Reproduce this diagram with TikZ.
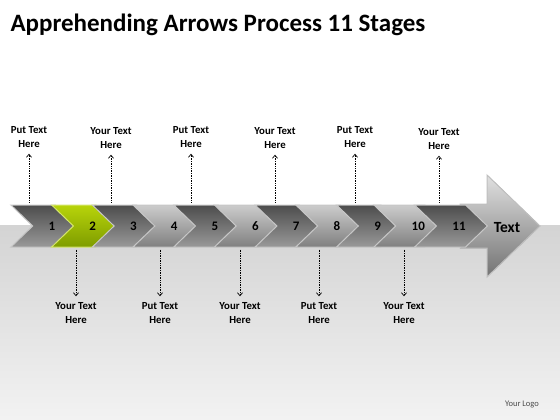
\documentclass[tikz,border=0pt]{standalone}
\usepackage{fontspec}
\setmainfont{Carlito}
\usetikzlibrary{shapes.symbols,arrows.meta}
\definecolor{limeA}{HTML}{B8D40A}
\definecolor{limeB}{HTML}{7E9C00}
\begin{document}
\begin{tikzpicture}[x=1pt,y=-1pt,
  chev/.style={signal,signal from=west,signal to=east,signal pointer angle=88,
    minimum width=62pt,minimum height=42pt,inner sep=0pt,draw=black!22,line width=1pt,
    font=\fontsize{13}{15}\bfseries,execute at begin node={\hspace*{16pt}}},
  chevd/.style={chev,top color=black!70,bottom color=black!40},
  chevl/.style={chev,top color=black!20,bottom color=black!50},
  chevg/.style={chev,top color=limeA,bottom color=limeB,draw=limeA!60!white},
  note/.style={align=center,inner sep=2pt,font=\fontsize{10.8}{14}\bfseries},
  tag/.style={densely dotted,line width=0.7pt,shorten <=2pt,shorten >=4pt,
    -{Straight Barb[length=3pt,width=5pt]}}]
\useasboundingbox (0,0) rectangle (560,420);
\fill[white] (0,0) rectangle (560,225);
\fill[top color=black!17,bottom color=black!5] (0,225) rectangle (560,420);
\node[anchor=west,font=\fontsize{25}{30}\bfseries] at (7,25) (title) {Apprehending Arrows Process 11 Stages};
% big arrow
\filldraw[draw=black!25,line width=1pt,top color=black!12,bottom color=black!55]
  (460,204) -- (487,204) -- (487,175) -- (540,226) -- (487,277) -- (487,248) -- (460,248) -- cycle;
\node[font=\fontsize{15.5}{18}\bfseries] at (507,228) (text) {Text};
% stages
\node[chevd] at (44,226) (1) {1};
\node[chevg] at (84.7,226) (2) {2};
\node[chevd] at (125.4,226) (3) {3};
\node[chevl] at (166.1,226) (4) {4};
\node[chevd] at (206.8,226) (5) {5};
\node[chevl] at (247.5,226) (6) {6};
\node[chevd] at (288.2,226) (7) {7};
\node[chevl] at (328.9,226) (8) {8};
\node[chevd] at (369.6,226) (9) {9};
\node[chevl] at (410.3,226) (10) {10};
\node[chevd] at (451,226) (11) {11};
% notes above
\node[note] at (29,137) (A) {Put Text\\Here};
\node[note] at (111,138) (B) {Your Text\\Here};
\node[note] at (191,137) (C) {Put Text\\Here};
\node[note] at (275,138) (D) {Your Text\\Here};
\node[note] at (355,137) (E) {Put Text\\Here};
\node[note] at (439,139) (F) {Your Text\\Here};
% notes below
\node[note] at (76,313) (P) {Your Text\\Here};
\node[note] at (160,313) (Q) {Put Text\\Here};
\node[note] at (240,313) (R) {Your Text\\Here};
\node[note] at (319,313) (S) {Put Text\\Here};
\node[note] at (404,313) (T) {Your Text\\Here};
\draw[tag] (A |- 1.north) -- (A);
\draw[tag] (B |- 3.north) -- (B);
\draw[tag] (C |- 5.north) -- (C);
\draw[tag] (D |- 7.north) -- (D);
\draw[tag] (E |- 9.north) -- (E);
\draw[tag] (F |- 11.north) -- (F);
\draw[tag] (P |- 2.south) -- (P);
\draw[tag] (Q |- 4.south) -- (Q);
\draw[tag] (R |- 6.south) -- (R);
\draw[tag] (S |- 8.south) -- (S);
\draw[tag] (T |- 10.south) -- (T);
\node[font=\fontsize{8.5}{10}\selectfont,text=black!70] at (522,405) (logo) {Your Logo};
\end{tikzpicture}
\end{document}
